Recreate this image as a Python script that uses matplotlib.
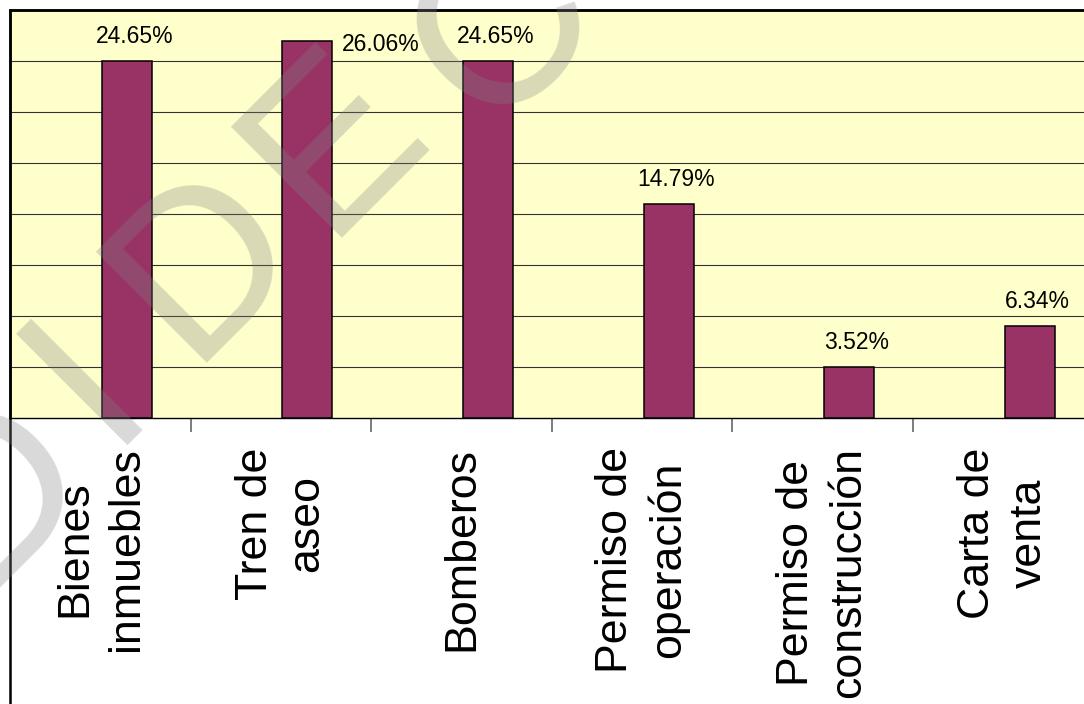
import matplotlib
matplotlib.use("Agg")
import matplotlib.pyplot as plt
from matplotlib.patches import Rectangle
import numpy as np

plt.rcParams['font.family'] = ['Liberation Sans', 'DejaVu Sans']

# datos
categorias = ["Bienes\ninmuebles", "Tren de\naseo", "Bomberos",
              "Permiso de\noperación", "Permiso de\nconstrucción", "Carta de\nventa"]
porcentajes = [24.65, 26.06, 24.65, 14.79, 3.52, 6.34]
etiquetas = ["24.65%", "26.06%", "24.65%", "14.79%", "3.52%", "6.34%"]
total = 142  # respuestas, la escala del eje va de 5 en 5

W, H = 1084, 704
fig = plt.figure(figsize=(W / 100, H / 100), dpi=100)
fig.patch.set_facecolor("white")

# area de grafico: izquierda en x=10, arriba en y=10, eje x en y=418
ax = fig.add_axes([10 / W, 1 - 418 / H, 6 * 180.6 / W, 408 / H])
ax.set_facecolor("#FFFFCC")

x = np.arange(len(categorias))
desp = 0.147
ancho = 0.277
ax.bar(x + desp, porcentajes, width=ancho, color="#993366",
       edgecolor="black", linewidth=1.1, zorder=3)

paso = 100 * 5 / total
ax.set_ylim(0, 8 * paso)
ax.set_xlim(-0.5, 5.5)
ax.set_yticks(np.arange(1, 8) * paso)
ax.yaxis.grid(True, color="#333333", linewidth=0.8)
ax.set_axisbelow(True)
ax.tick_params(axis="y", left=False, labelleft=False)

ax.set_xticks(x)
ax.set_xticklabels(categorias, rotation=90, fontsize=32.2, ha="center",
                   multialignment="center", linespacing=1.33)
ax.set_xticks(np.arange(0.5, 5.5, 1), minor=True)
ax.tick_params(axis="x", which="major", length=0, pad=21)
ax.tick_params(axis="x", which="minor", length=10, width=1.2, color="#666666",
               direction="out")

for s in ["top", "left"]:
    ax.spines[s].set_linewidth(1.8)
ax.spines["right"].set_visible(False)
ax.spines["bottom"].set_linewidth(1.0)

# etiquetas de datos
tope = ax.get_ylim()[1]
for xi, v, t in zip(x, porcentajes, etiquetas):
    if v > 0.9 * tope:
        ax.annotate(t, (xi + desp + ancho / 2, v), xytext=(6.5, -3),
                    textcoords="offset points", ha="left", va="center",
                    fontsize=16.5)
    else:
        ax.annotate(t, (xi + desp, v), xytext=(5.5, 17.5),
                    textcoords="offset points", ha="center", va="center",
                    fontsize=16.5)

# borde del area del grafico
fig.add_artist(Rectangle((10 / W, -0.1), 1.2, 1 - 10 / H + 0.1,
                         transform=fig.transFigure, fill=False,
                         edgecolor="black", linewidth=1.8))

# marca de agua (letra por letra, en diagonal)
marca = "DIDECO"
centros = [(-5, 490), (87, 380), (205, 262), (335, 142), (505, 32), (650, -100)]
for letra, (px, py) in zip(marca, centros):
    fig.text(px / W, 1 - py / H, letra, rotation=45, fontsize=165,
             color="gray", alpha=0.3, ha="center", va="center",
             rotation_mode="anchor", zorder=10)

fig.savefig("out.png", dpi=100)
